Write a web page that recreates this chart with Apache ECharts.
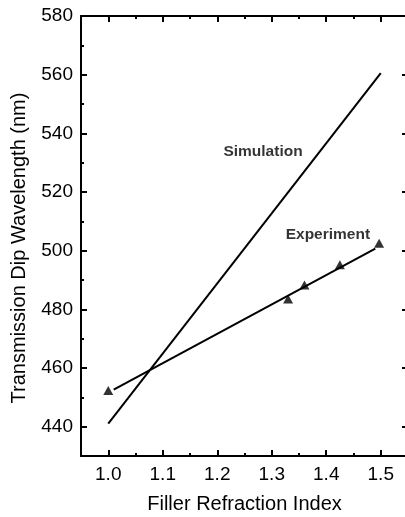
<!DOCTYPE html>
<html>
<head>
<meta charset="utf-8">
<script src="https://cdn.jsdelivr.net/npm/echarts@6/dist/echarts.min.js"></script>
<style>
  html, body { margin: 0; padding: 0; background: #fff; }
  #chart { width: 405px; height: 517px; }
</style>
</head>
<body>
<div id="chart"></div>
<script>
// Axis ticks and labels
const xMajorTicks = [1.0, 1.1, 1.2, 1.3, 1.4, 1.5];
const xMinorTicks = [1.05, 1.15, 1.25, 1.35, 1.45];
const yMajorTicks = [440, 460, 480, 500, 520, 540, 560, 580];
const yMinorTicks = [450, 470, 490, 510, 530, 550, 570];

// Simulated dip wavelength vs. filler index
const simulationIndex = [1.0, 1.5];
const simulationWavelength = [441, 560.5];

// Measured dip wavelengths
const experimentIndex = [1.0, 1.33, 1.36, 1.425, 1.497];
const experimentWavelength = [452.3, 483.5, 488.3, 495.2, 502.5];

// Linear fit through the measurements
const fitIndex = [1.01, 1.49];
const fitWavelength = [452.6, 500.7];

// In-plot annotations
const noteText = ['Simulation', 'Experiment'];
const noteIndex = [1.284, 1.403];
const noteWavelength = [533.6, 505.3];

const zip = (xs, ys) => xs.map((x, i) => [x, ys[i]]);

const FONT = '"Liberation Sans", Arial, sans-serif';
const INK = '#000';

function xAxisDef(position, ticks, len, withLine, withLabels) {
  return {
    type: 'value', position: position, min: 0.95, max: 1.55,
    axisLine: { show: withLine, onZero: false, lineStyle: { color: INK, width: 2 } },
    axisTick: { show: true, inside: true, length: len, customValues: ticks,
                lineStyle: { color: INK, width: 2 } },
    axisLabel: withLabels ? {
      show: true, customValues: ticks, margin: 9,
      fontFamily: FONT, fontSize: 19, color: INK,
      formatter: v => Number(v).toFixed(1)
    } : { show: false },
    splitLine: { show: false }
  };
}

function yAxisDef(position, ticks, len, withLine, withLabels) {
  return {
    type: 'value', position: position, min: 430, max: 580,
    axisLine: { show: withLine, onZero: false, lineStyle: { color: INK, width: 2 } },
    axisTick: { show: true, inside: true, length: len, customValues: ticks,
                lineStyle: { color: INK, width: 2 } },
    axisLabel: withLabels ? {
      show: true, customValues: ticks, margin: 8,
      fontFamily: FONT, fontSize: 19, color: INK
    } : { show: false },
    splitLine: { show: false }
  };
}

const xBottom = xAxisDef('bottom', xMajorTicks, 6, true, true);
xBottom.name = 'Filler Refraction Index';
xBottom.nameLocation = 'middle';
xBottom.nameGap = 38;
xBottom.nameTextStyle = { fontFamily: FONT, fontSize: 20, color: INK };

const yLeft = yAxisDef('left', yMajorTicks, 6, true, true);
yLeft.name = 'Transmission Dip Wavelength (nm)';
yLeft.nameLocation = 'middle';
yLeft.nameGap = 52;
yLeft.nameTextStyle = { fontFamily: FONT, fontSize: 20, color: INK, padding: [0, 24, 0, 0] };

const chart = echarts.init(document.getElementById('chart'), null, { renderer: 'canvas' });
chart.setOption({
  animation: false,
  backgroundColor: '#fff',
  grid: { left: 81, right: -3, top: 16, bottom: 61, outerBoundsMode: 'none' },
  xAxis: [
    xBottom,
    xAxisDef('bottom', xMinorTicks, 3, false, false),
    xAxisDef('top', xMajorTicks, 6, true, false),
    xAxisDef('top', xMinorTicks, 3, false, false)
  ],
  yAxis: [
    yLeft,
    yAxisDef('left', yMinorTicks, 3, false, false),
    yAxisDef('right', yMajorTicks, 6, true, false),
    yAxisDef('right', yMinorTicks, 3, false, false)
  ],
  series: [
    {
      name: 'Simulation', type: 'line', xAxisIndex: 0, yAxisIndex: 0,
      data: zip(simulationIndex, simulationWavelength),
      showSymbol: false, lineStyle: { color: INK, width: 2 }, silent: true
    },
    {
      name: 'Fit', type: 'line', xAxisIndex: 0, yAxisIndex: 0,
      data: zip(fitIndex, fitWavelength),
      showSymbol: false, lineStyle: { color: INK, width: 2 }, silent: true
    },
    {
      name: 'Experiment', type: 'scatter', xAxisIndex: 0, yAxisIndex: 0,
      data: zip(experimentIndex, experimentWavelength),
      symbol: 'triangle', symbolSize: [10, 9],
      itemStyle: { color: INK }, silent: true
    },
    {
      name: 'Notes', type: 'scatter', xAxisIndex: 0, yAxisIndex: 0,
      data: noteText.map((t, i) => ({ value: [noteIndex[i], noteWavelength[i]], name: t })),
      symbolSize: 0, silent: true,
      label: {
        show: true, position: 'inside', formatter: p => p.name,
        fontFamily: FONT, fontSize: 15.5, fontWeight: 'bold', color: INK
      }
    }
  ]
});
</script>
</body>
</html>
